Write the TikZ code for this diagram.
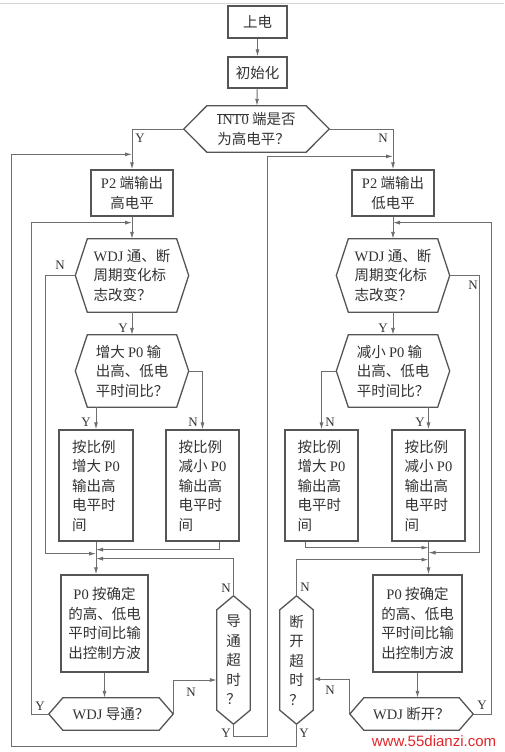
\documentclass[tikz,border=0pt]{standalone}
\usepackage{fontspec}
\setmainfont{Liberation Serif}
\newfontfamily\cjk{Noto Sans CJK SC}
\newfontfamily\latf{Liberation Serif}
\newfontfamily\wmf{Liberation Sans}
\usetikzlibrary{arrows.meta,calc}
\definecolor{boxc}{HTML}{555555}
\definecolor{linec}{HTML}{6E6E6E}
\definecolor{txt}{HTML}{333333}
\definecolor{wmred}{HTML}{E0262A}
\newcommand\lat[1]{{\latf #1}}
\begin{document}
\begin{tikzpicture}[x=1pt,y=-1pt,
  base/.style={font=\fontsize{14.5}{19.5}\cjk, text=txt, inner sep=0pt},
  rbox/.style={base, draw=boxc, line width=1.3pt, align=center},
  hexa/.style={base, align=left, append after command={\pgfextra{%
     \draw[boxc, line width=1.3pt]
       ([xshift=#1]\tikzlastnode.north west) -- ([xshift=-#1]\tikzlastnode.north east)
       -- (\tikzlastnode.east) -- ([xshift=-#1]\tikzlastnode.south east)
       -- ([xshift=#1]\tikzlastnode.south west) -- (\tikzlastnode.west) -- cycle;}}},
  vhex/.style={base, align=center, append after command={\pgfextra{%
     \draw[boxc, line width=1.3pt]
       (\tikzlastnode.north) -- ([yshift=-#1]\tikzlastnode.north east)
       -- ([yshift=#1]\tikzlastnode.south east) -- (\tikzlastnode.south)
       -- ([yshift=#1]\tikzlastnode.south west) -- ([yshift=-#1]\tikzlastnode.north west) -- cycle;}}},
  arr/.style={draw=linec, line width=0.9pt, -{Latex[length=7pt,width=4pt]}},
  lab/.style={font=\fontsize{13}{13}\latf, text=txt, inner sep=0pt}]
\fill[white] (0,0) rectangle (504,752);
\useasboundingbox (0,0) rectangle (504,752);
\draw[gray!35, line width=0.8pt] (0,3) -- (504,3);

% nodes
\node[rbox, minimum width=59, minimum height=32] (pwr) at (257.5,22) {上电};
\node[rbox, minimum width=59, minimum height=31] (init) at (257.5,72.5) {初始化};
\node[hexa=23, minimum width=145, minimum height=46] (int) at (256.5,129) {\lat{$\overline{\mbox{INT0}}$} 端是否\\为高电平？};
\node[rbox, minimum width=82, minimum height=46] (p2h) at (132,193) {\lat{P2} 端输出\\高电平};
\node[rbox, minimum width=82, minimum height=46] (p2l) at (393,193) {\lat{P2} 端输出\\低电平};
\node[hexa=12, minimum width=113, minimum height=73] (flagL) at (132,275.5) {\lat{WDJ} 通、断\\周期变化标\\志改变？};
\node[hexa=12, minimum width=113, minimum height=73] (flagR) at (393,275.5) {\lat{WDJ} 通、断\\周期变化标\\志改变？};
\node[hexa=12, minimum width=113, minimum height=72] (incL) at (132,371) {增大 \lat{P0} 输\\出高、低电\\平时间比？};
\node[hexa=12, minimum width=113, minimum height=72] (decR) at (393,371) {减小 \lat{P0} 输\\出高、低电\\平时间比？};
\node[rbox, align=left, minimum width=74, minimum height=111] (boxLa) at (96,485.5) {按比例\\增大 \lat{P0}\\输出高\\电平时\\间};
\node[rbox, align=left, minimum width=73, minimum height=111] (boxLb) at (202.5,485.5) {按比例\\减小 \lat{P0}\\输出高\\电平时\\间};
\node[rbox, align=left, minimum width=73, minimum height=111] (boxRa) at (321.5,485.5) {按比例\\增大 \lat{P0}\\输出高\\电平时\\间};
\node[rbox, align=left, minimum width=73, minimum height=111] (boxRb) at (428.5,485.5) {按比例\\减小 \lat{P0}\\输出高\\电平时\\间};
\node[rbox, minimum width=87, minimum height=97] (p0L) at (104.5,623.5) {\lat{P0} 按确定\\的高、低电\\平时间比输\\出控制方波};
\node[rbox, minimum width=89, minimum height=97] (p0R) at (417.5,623.5) {\lat{P0} 按确定\\的高、低电\\平时间比输\\出控制方波};
\node[hexa=14, minimum width=124, minimum height=32] (wdjL) at (111,714) {\lat{WDJ} 导通？};
\node[hexa=14, minimum width=123, minimum height=32] (wdjR) at (411.5,714) {\lat{WDJ} 断开？};
\node[vhex=14, minimum width=33, minimum height=128] (tmoL) at (233.5,660) {导\\通\\超\\时\\？};
\node[vhex=14, minimum width=33, minimum height=128] (tmoR) at (296.5,660) {断\\开\\超\\时\\？};

% junction coordinates
\coordinate (jP2ht) at ($(p2h.north)+(0,-15)$);
\coordinate (jP2h)  at ($(p2h.south)+(0,6)$);
\coordinate (jP2lt) at ($(p2l.north)+(0,-13)$);
\coordinate (jP2l)  at ($(p2l.south)+(0,6)$);
\coordinate (jLa) at ($(boxLa.south)+(0,8)$);
\coordinate (jLb) at ($(boxLa.south)+(0,12)$);
\coordinate (jLc) at ($(boxLa.south)+(0,17)$);
\coordinate (jRa) at ($(boxRb.south)+(0,6)$);
\coordinate (jRb) at ($(boxRb.south)+(0,11)$);
\coordinate (jRc) at ($(boxRb.south)+(0,18)$);

% connectors
\draw[arr] (pwr) -- (init);
\draw[arr] (init) -- (int);
\draw[arr] (int.west) -| (p2h.north);
\draw[arr] (int.east) -| (p2l.north);
\draw[arr] (p2h) -- (flagL);
\draw[arr] (p2l) -- (flagR);
\draw[arr] (flagL) -- (incL);
\draw[arr] (flagR) -- (decR);
\draw[arr] (boxLa.north |- incL.south) -- (boxLa.north);
\draw[arr] (incL.east) -| (boxLb.north);
\draw[arr] (decR.west) -| (boxRa.north);
\draw[arr] (boxRb.north |- decR.south) -- (boxRb.north);
\draw[arr] ($(boxLb.south)+(16.5,0)$) |- (jLa);
\draw[arr] (flagL.west) -- ++(-30,0) |- (jLb);
\draw[arr] (tmoL.north) |- (jLc);
\draw[arr] (boxLa.south) -- (boxLa.south |- p0L.north);
\draw[arr] ($(boxRa.south)+(-16.5,0)$) |- (jRa);
\draw[arr] (flagR.east) -- ++(30,0) |- (jRb);
\draw[arr] (tmoR.north) |- (jRc);
\draw[arr] (boxRb.south) -- (boxRb.south |- p0R.north);
\draw[arr] (p0L.south) -- (p0L.south |- wdjL.north);
\draw[arr] (p0R.south) -- (p0R.south |- wdjR.north);
\draw[arr] (wdjL.west) -- ++(-17,0) |- (jP2h);
\draw[arr] (wdjL.east) |- ($(tmoL.west)+(0,20)$);
\draw[arr] (tmoL.south) -- ++(0,12) -- ++(34,0) |- (jP2lt);
\draw[arr] (wdjR.west) |- ($(tmoR.east)+(0,19)$);
\draw[arr] (tmoR.south) -- ++(0,22) -| ([xshift=-121pt]jP2ht) -- (jP2ht);
\draw[arr] (wdjR.east) -- ++(18,0) |- (jP2l);

% labels
\node[lab] (l1) at (140,138) {Y};
\node[lab] (l2) at (383,138) {N};
\node[lab] (l3) at (60,265) {N};
\node[lab] (l4) at (123,328) {Y};
\node[lab] (l5) at (86,422) {Y};
\node[lab] (l6) at (193,422) {N};
\node[lab] (l7) at (383,328) {Y};
\node[lab] (l8) at (473,285) {N};
\node[lab] (l9) at (330,422) {N};
\node[lab] (l10) at (420,422) {Y};
\node[lab] (l11) at (40,706) {Y};
\node[lab] (l12) at (191,692) {N};
\node[lab] (l13) at (226,588) {N};
\node[lab] (l14) at (226,733) {Y};
\node[lab] (l15) at (330,690) {N};
\node[lab] (l16) at (305,587) {N};
\node[lab] (l17) at (304,733) {Y};
\node[lab] (l18) at (482,705) {Y};

\node[font=\fontsize{15}{15}\wmf, text=wmred, fill=white, inner sep=1pt] (wm) at (434,741) {www.55dianzi.com};
\end{tikzpicture}
\end{document}
